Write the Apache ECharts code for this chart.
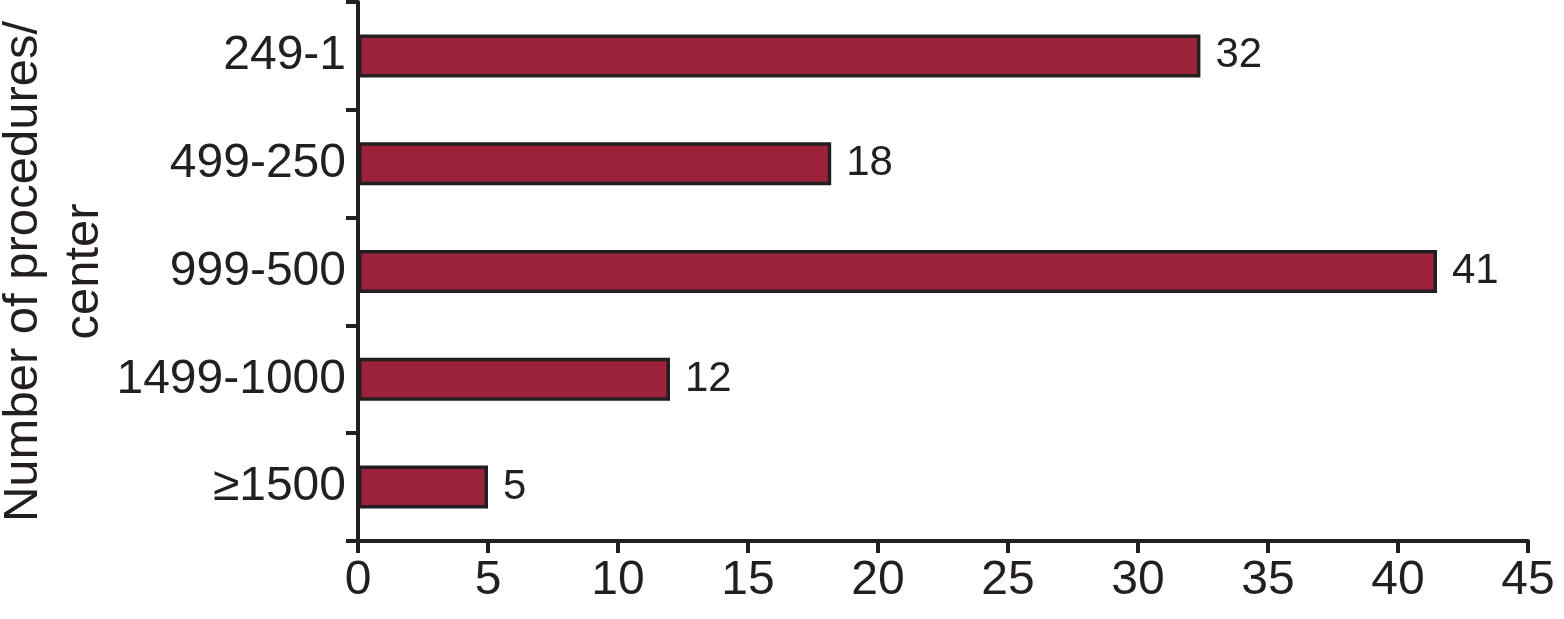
<!DOCTYPE html>
<html>
<head>
<meta charset="utf-8">
<script src="https://cdn.jsdelivr.net/npm/echarts@6/dist/echarts.min.js"></script>
<style>
html,body{margin:0;padding:0;background:#fff;}
#chart{width:1564px;height:619px;}
</style>
</head>
<body>
<div id="chart"></div>
<script>
const categories = ['249-1', '499-250', '999-500', '1499-1000', '\u22651500'];
const values = [32.4, 18.2, 41.5, 12, 5];
const valueLabels = ['32', '18', '41', '12', '5'];
const xTicks = [0, 5, 10, 15, 20, 25, 30, 35, 40, 45];
const axisName = 'Number of procedures/\ncenter';

const ink = '#231F20';
const font = '"Liberation Sans", Arial, Helvetica, sans-serif';
const chart = echarts.init(document.getElementById('chart'), null, {renderer: 'canvas'});
chart.setOption({
  animation: false,
  backgroundColor: '#ffffff',
  grid: {left: 358, right: 36, top: 2, bottom: 78, containLabel: false, outerBoundsMode: 'none'},
  xAxis: {
    type: 'value',
    min: xTicks[0],
    max: xTicks[xTicks.length - 1],
    interval: 5,
    axisLine: {show: true, lineStyle: {color: ink, width: 4}},
    axisTick: {show: true, length: 12, lineStyle: {color: ink, width: 4}},
    splitLine: {show: false},
    axisLabel: {color: ink, fontSize: 48, fontFamily: font, margin: 16}
  },
  yAxis: {
    type: 'category',
    data: categories,
    inverse: true,
    axisLine: {show: true, lineStyle: {color: ink, width: 4}},
    axisTick: {show: true, length: 12, lineStyle: {color: ink, width: 4}, alignWithLabel: false},
    axisLabel: {color: ink, fontSize: 48, fontFamily: font, margin: 12},
    name: axisName,
    nameLocation: 'middle',
    nameRotate: 90,
    nameGap: 243,
    nameMoveOverlap: false,
    nameTextStyle: {color: ink, fontSize: 49, fontFamily: font, lineHeight: 61, align: 'center'}
  },
  series: [{
    type: 'bar',
    data: values,
    barWidth: 43,
    itemStyle: {color: '#9B2238', borderColor: ink, borderWidth: 3.5},
    label: {
      show: true,
      position: 'right',
      distance: 15,
      color: ink,
      fontSize: 42,
      fontFamily: font,
      formatter: p => valueLabels[p.dataIndex]
    }
  }]
});
</script>
</body>
</html>
